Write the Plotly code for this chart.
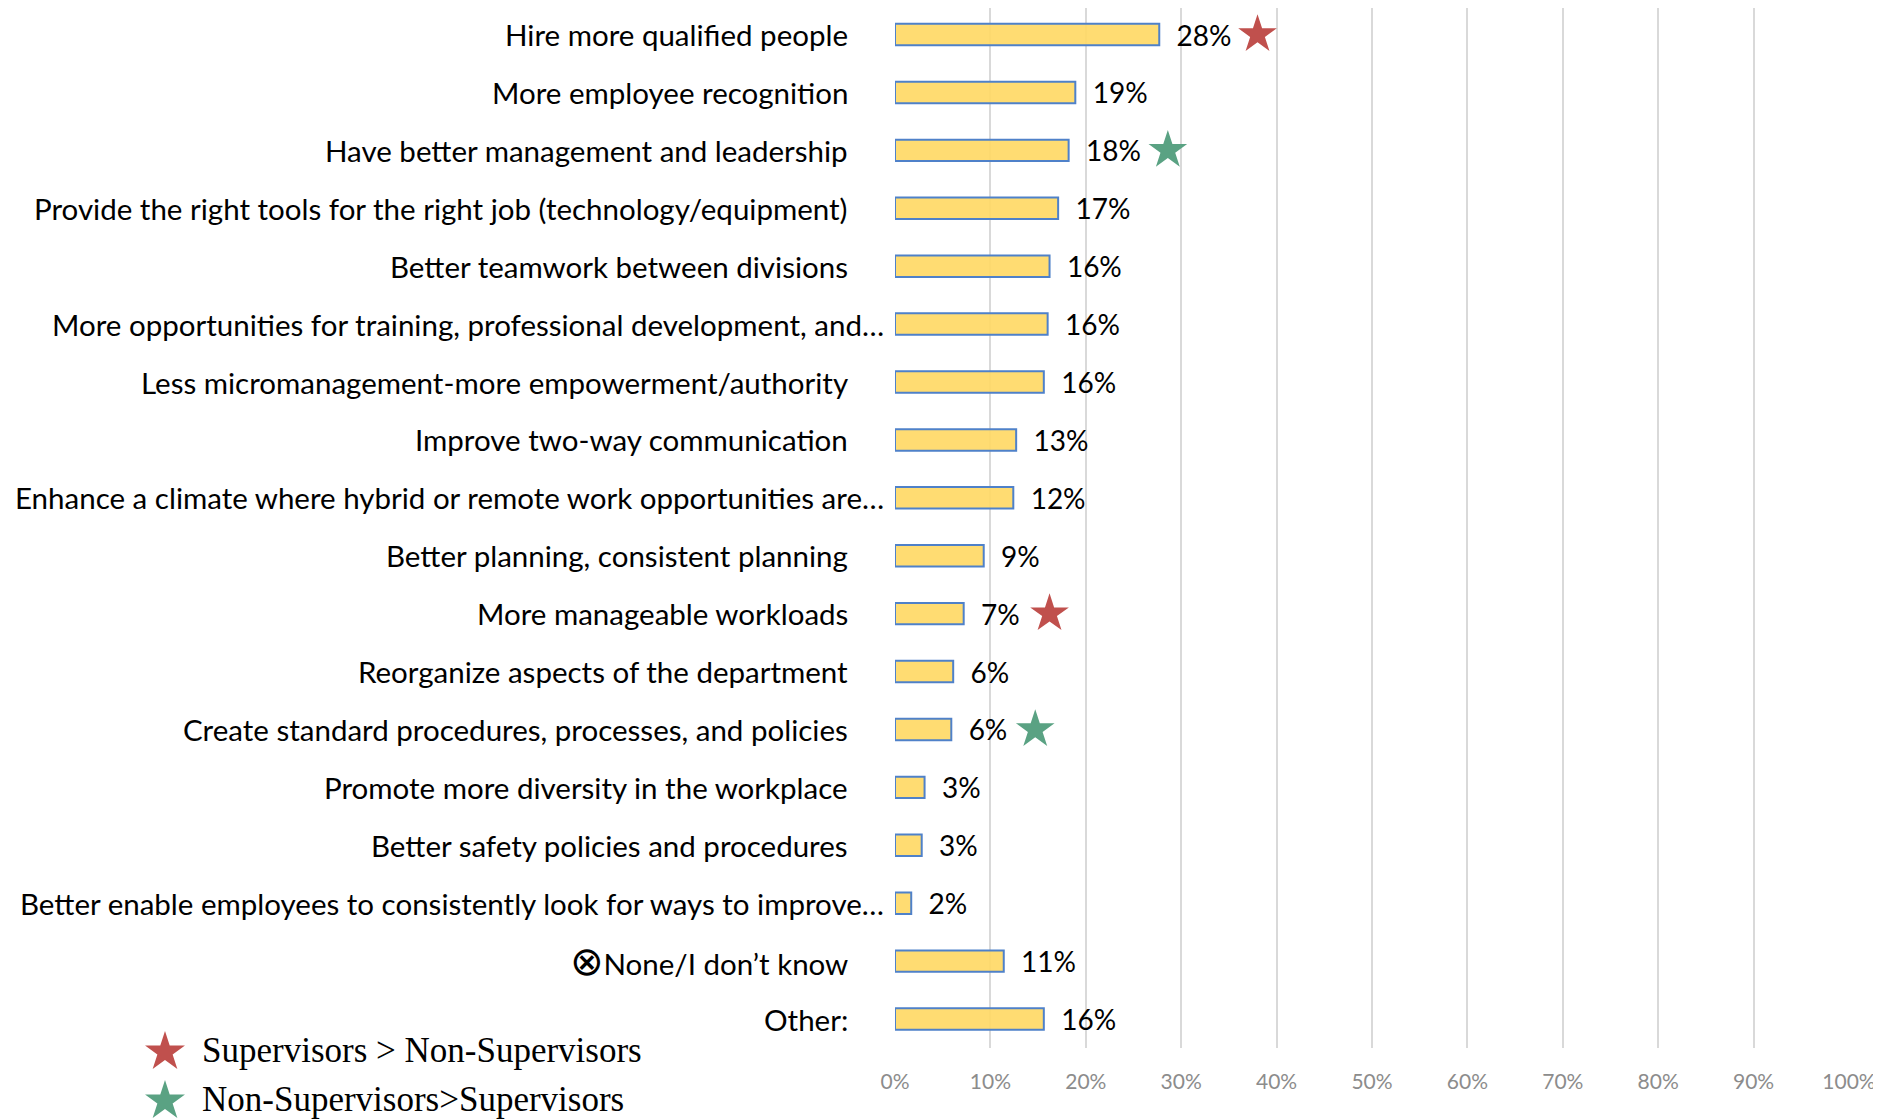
import math
import plotly.graph_objects as go

categories = [
    "Hire more qualified people",
    "More employee recognition",
    "Have better management and leadership",
    "Provide the right tools for the right job (technology/equipment)",
    "Better teamwork between divisions",
    "More opportunities for training, professional development, and…",
    "Less micromanagement-more empowerment/authority",
    "Improve two-way communication",
    "Enhance a climate where hybrid or remote work opportunities are…",
    "Better planning, consistent planning",
    "More manageable workloads",
    "Reorganize aspects of the department",
    "Create standard procedures, processes, and policies",
    "Promote more diversity in the workplace",
    "Better safety policies and procedures",
    "Better enable employees to consistently look for ways to improve…",
    "⊗None/I don’t know",
    "Other:",
]
values = [27.7, 18.9, 18.2, 17.1, 16.2, 16.0, 15.6, 12.7, 12.4, 9.3, 7.2, 6.1, 5.9, 3.1, 2.8, 1.7, 11.4, 15.6]

# significance stars (category, x position)
sup_cats = ["Hire more qualified people", "More manageable workloads"]
sup_x = [38.0, 16.2]
nonsup_cats = ["Have better management and leadership", "Create standard procedures, processes, and policies"]
nonsup_x = [28.6, 14.7]

legend_labels = ["Supervisors > Non-Supervisors", "Non-Supervisors>Supervisors"]

RED = "#C0504D"
GREEN = "#5AA283"
# page body has an 8px margin; figure is sized/offset to compensate
W, H = 1873, 1112
L, R, T, B = 887, 32, 0, 72
pw, ph = W - L - R, H - T - B

fig = go.Figure()
fig.add_trace(go.Bar(
    x=values, y=categories, orientation="h",
    marker=dict(color="rgba(255,217,102,0.92)", line=dict(color="#4F81C9", width=2)),
    width=0.37,
    texttemplate="\u00a0\u00a0%{x:.0f}%", textposition="outside", constraintext="none",
    textfont=dict(family="Lato", size=28, color="black"),
    cliponaxis=False, showlegend=False,
))
fig.add_trace(go.Scatter(
    x=sup_x, y=sup_cats, mode="markers",
    marker=dict(symbol="star", size=29, color=RED, line=dict(width=0)),
    cliponaxis=False, showlegend=False,
))
fig.add_trace(go.Scatter(
    x=nonsup_x, y=nonsup_cats, mode="markers",
    marker=dict(symbol="star", size=29, color=GREEN, line=dict(width=0)),
    cliponaxis=False, showlegend=False,
))

annotations = []
for c in categories:
    trunc = c.endswith("…")
    txt = c.replace("⊗", "<span style='font-family:DejaVu Sans;font-size:40px'>⊗</span>")
    annotations.append(dict(
        xref="paper", x=0, xanchor="right", xshift=-9 if trunc else -45,
        yref="y", y=c, yanchor="middle", text=txt, showarrow=False,
        font=dict(family="Lato", size=29.5, color="black"),
    ))

def px_x(p):
    return (p - L) / pw

def px_y(p):
    return (H - B - p) / ph

def star_path(cx, cy, ro):
    ri = ro * 0.382
    pts = []
    for k in range(10):
        r = ro if k % 2 == 0 else ri
        a = math.radians(90 + 36 * k)
        pts.append((px_x(cx + r * math.cos(a)), px_y(cy - r * math.sin(a))))
    return "M " + " L ".join(f"{x:.5f},{y:.5f}" for x, y in pts) + " Z"

shapes = []
for lab, col, yy in zip(legend_labels, [RED, GREEN], [1042, 1091]):
    shapes.append(dict(
        type="path", xref="paper", yref="paper", path=star_path(157, yy + 2, 21),
        fillcolor=col, line=dict(width=0), layer="above",
    ))
    annotations.append(dict(
        xref="paper", yref="paper", x=px_x(192), y=px_y(yy), xanchor="left", yanchor="middle",
        text=lab, showarrow=False, font=dict(family="Liberation Serif", size=35, color="black"),
    ))

fig.update_layout(
    width=W, height=H,
    margin=dict(l=L, r=R, t=T, b=B, pad=0),
    paper_bgcolor="white", plot_bgcolor="white",
    annotations=annotations, shapes=shapes,
)
fig.update_xaxes(
    range=[0, 100], dtick=10, ticksuffix="%",
    showgrid=True, gridcolor="#D9D9D9", gridwidth=2,
    zeroline=False, showline=False, ticks="",
    tickfont=dict(family="Lato", size=21, color="#8C8C8C"),
    ticklabelstandoff=19,
)
fig.update_yaxes(
    type="category", categoryorder="array", categoryarray=categories,
    range=[17.5, -0.458], showticklabels=False, showgrid=False, zeroline=False, ticks="",
)

fig.write_html("out.html")
